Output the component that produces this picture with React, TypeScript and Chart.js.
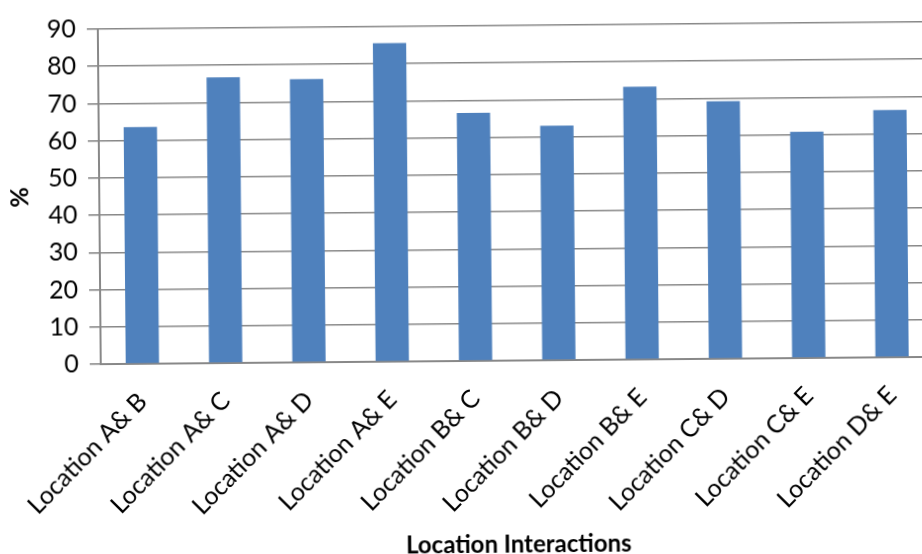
import React, { useEffect, useRef } from "react";
import { Chart, registerables } from "chart.js";

Chart.register(...registerables);

const categories = [
  "Location A& B",
  "Location A& C",
  "Location A& D",
  "Location A& E",
  "Location B& C",
  "Location B& D",
  "Location B& E",
  "Location C& D",
  "Location C& E",
  "Location D& E",
];
const values = [63.6, 76.8, 76.1, 85.6, 66.6, 63.0, 73.3, 69.2, 60.8, 66.4];
const yTicks = [0, 10, 20, 30, 40, 50, 60, 70, 80, 90];
const xTitle = "Location Interactions";
const yTitle = "%";

const FONT = "Lato, 'Open Sans', sans-serif";
const GRID = "#888888";

export default function App() {
  const ref = useRef<HTMLCanvasElement | null>(null);

  useEffect(() => {
    const canvas = ref.current;
    if (!canvas) return;
    const chart = new Chart(canvas, {
      type: "bar",
      data: {
        labels: categories,
        datasets: [
          {
            data: values,
            backgroundColor: "#4F81BD",
            borderWidth: 0,
            barPercentage: 0.4,
            categoryPercentage: 1,
          },
        ],
      },
      options: {
        responsive: false,
        animation: false,
        devicePixelRatio: 1,
        layout: { padding: { top: 21, right: 7, bottom: 0, left: 0 } },
        plugins: {
          legend: { display: false },
          tooltip: { enabled: false },
        },
        scales: {
          x: {
            grid: { display: false, drawTicks: false },
            border: { display: true, color: GRID, width: 2 },
            ticks: {
              minRotation: 45,
              maxRotation: 45,
              padding: 23,
              color: "#000",
              font: { family: FONT, size: 25 },
            },
            title: {
              display: true,
              text: xTitle,
              color: "#000",
              font: { family: FONT, size: 24, weight: "bold", lineHeight: 1 },
              padding: { top: 0, bottom: -3 },
            },
            afterFit: (s: any) => {
              s.height = 193;
            },
          },
          y: {
            min: 0,
            max: 90,
            afterBuildTicks: (s: any) => {
              s.ticks = yTicks.map((v) => ({ value: v }));
            },
            grid: {
              color: GRID,
              lineWidth: 1.6,
              tickLength: 11,
              drawTicks: true,
            },
            border: { display: true, color: GRID, width: 2 },
            ticks: {
              padding: 11,
              color: "#000",
              font: { family: FONT, size: 25 },
            },
            title: {
              display: true,
              text: yTitle,
              color: "#000",
              font: { family: FONT, size: 25, weight: "bold" },
              padding: { top: 6, bottom: 0 },
            },
            afterFit: (s: any) => {
              s.width = 100;
            },
          },
        },
      },
    });
    return () => chart.destroy();
  }, []);

  return (
    <div
      style={{
        position: "fixed",
        left: 0,
        top: 0,
        width: 922,
        height: 554,
        overflow: "hidden",
        background: "#fff",
      }}
    >
      <canvas
        ref={ref}
        width={940}
        height={554}
        style={{
          width: 940,
          height: 554,
          display: "block",
          transform: "rotate(-0.5deg)",
          transformOrigin: "461px 277px",
        }}
      />
    </div>
  );
}
